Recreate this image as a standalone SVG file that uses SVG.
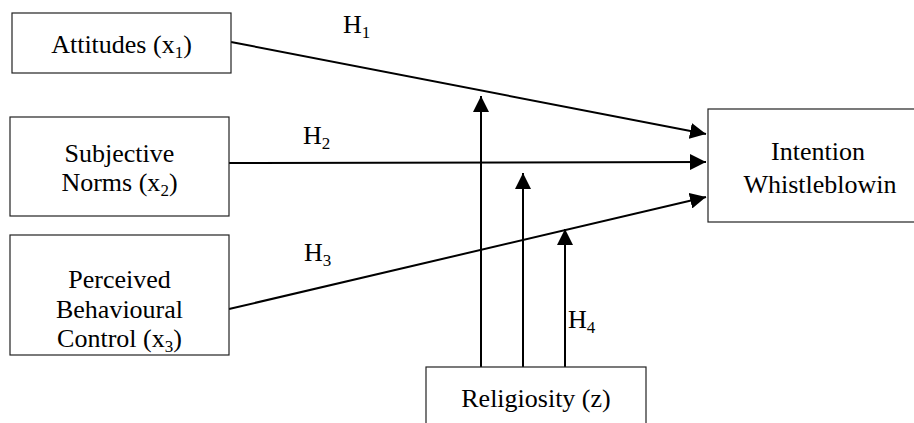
<svg xmlns="http://www.w3.org/2000/svg" width="914" height="423" viewBox="0 0 914 423">
<style>
.box{fill:#fff;stroke:#222;stroke-width:1.2}
.t{font-family:'Liberation Serif','Times New Roman',Tinos,'DejaVu Serif',serif;font-size:26px;fill:#000}
.m{text-anchor:middle}
.c{stroke:#000;stroke-width:2;fill:none}
</style>
<defs>
<marker id="ah" markerUnits="userSpaceOnUse" markerWidth="16" markerHeight="16" refX="16" refY="8" orient="auto">
<path d="M0,0 L16,8 L0,16 z" fill="#000"/>
</marker>
</defs>
<rect width="914" height="423" fill="#fff"/>
<g id="connectors">
<line class="c" x1="231" y1="42" x2="706" y2="134" marker-end="url(#ah)"/>
<line class="c" x1="229" y1="163" x2="706" y2="162" marker-end="url(#ah)"/>
<line class="c" x1="229" y1="309" x2="706" y2="197" marker-end="url(#ah)"/>
<line class="c" x1="481" y1="367" x2="481" y2="96" marker-end="url(#ah)"/>
<line class="c" x1="523" y1="367" x2="523" y2="173" marker-end="url(#ah)"/>
<line class="c" x1="565" y1="367" x2="565" y2="229" marker-end="url(#ah)"/>
<text class="t" x="343" y="33">H<tspan font-size="17" dy="5">1</tspan></text>
<text class="t" x="303" y="144">H<tspan font-size="17" dy="5">2</tspan></text>
<text class="t" x="304" y="261">H<tspan font-size="17" dy="5">3</tspan></text>
<text class="t" x="568" y="328">H<tspan font-size="17" dy="5">4</tspan></text>
</g>
<g id="attitudes">
<rect class="box" x="12" y="13" width="219" height="60"/>
<text class="t m" x="121.5" y="53">Attitudes (x<tspan font-size="17" dy="5">1</tspan><tspan dy="-5">)</tspan></text>
</g>
<g id="subjective">
<rect class="box" x="10" y="117" width="219" height="99"/>
<text class="t m" x="119.5" y="162">Subjective</text>
<text class="t m" x="119.5" y="191">Norms (x<tspan font-size="17" dy="5">2</tspan><tspan dy="-5">)</tspan></text>
</g>
<g id="perceived">
<rect class="box" x="10" y="235" width="219" height="120"/>
<text class="t m" x="119.5" y="288">Perceived</text>
<text class="t m" x="119.5" y="318">Behavioural</text>
<text class="t m" x="119.5" y="347">Control (x<tspan font-size="17" dy="5">3</tspan><tspan dy="-5">)</tspan></text>
</g>
<g id="intention">
<rect class="box" x="708" y="109" width="220" height="113"/>
<text class="t m" x="818" y="160">Intention</text>
<text class="t m" x="820" y="193">Whistleblowin</text>
</g>
<g id="religiosity">
<rect class="box" x="426" y="367" width="220" height="70"/>
<text class="t m" x="536" y="407">Religiosity (z)</text>
</g>
</svg>
